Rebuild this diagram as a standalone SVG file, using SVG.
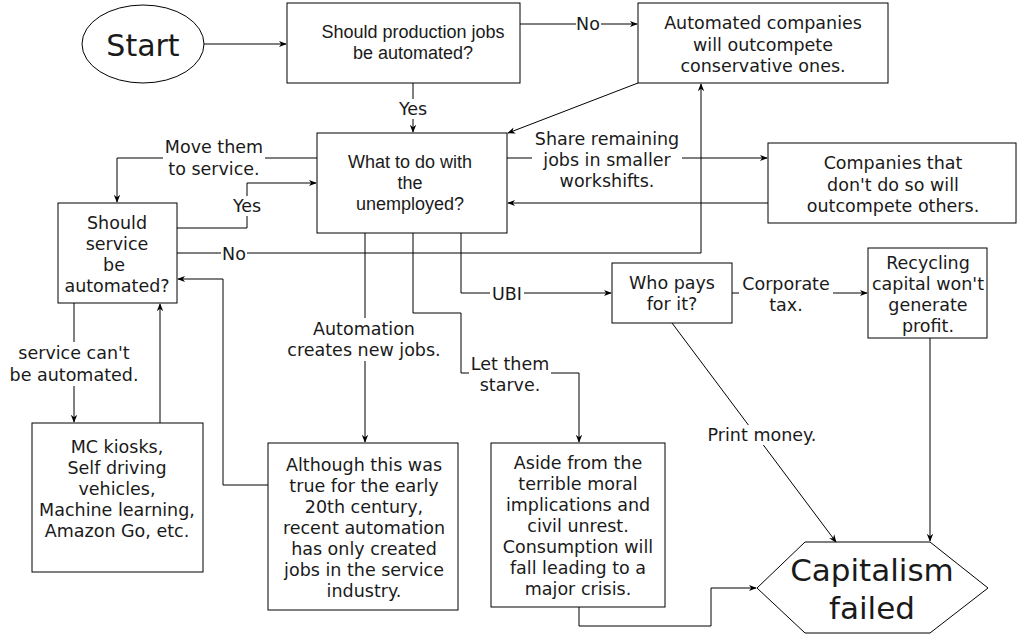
<svg xmlns="http://www.w3.org/2000/svg" width="1024" height="639" viewBox="0 0 1024 639">
<style>
.n{fill:#fff;stroke:#000;stroke-width:1}
.t{font-family:"DejaVu Sans",Verdana,sans-serif;font-size:17.5px;fill:#1a1a1a;text-anchor:middle;dominant-baseline:central}
.a{font-family:"Liberation Sans",Arial,sans-serif;font-size:18px;fill:#1a1a1a;text-anchor:middle;dominant-baseline:central}
.c{fill:none;stroke:#000;stroke-width:1}
.lb{fill:#fff;stroke:none}
</style>
<defs>
<marker id="ar" viewBox="0 0 10 10" refX="9" refY="5" markerWidth="8" markerHeight="8" markerUnits="userSpaceOnUse" orient="auto">
<path d="M0,1 L10,5 L0,9 L3,5 Z" fill="#000"/>
</marker>
</defs>
<rect width="1024" height="639" fill="#fff"/>
<g id="connectors">
<path class="c" d="M203,44 H286" marker-end="url(#ar)"/>
<path class="c" d="M520,24 H637" marker-end="url(#ar)"/>
<path class="c" d="M413,83 V132" marker-end="url(#ar)"/>
<path class="c" d="M638,83 L508,133" marker-end="url(#ar)"/>
<path class="c" d="M317,158 H117 V202" marker-end="url(#ar)"/>
<path class="c" d="M177,228 H247 V183 H316" marker-end="url(#ar)"/>
<path class="c" d="M177,253 H701 V84" marker-end="url(#ar)"/>
<path class="c" d="M507,158 H767" marker-end="url(#ar)"/>
<path class="c" d="M768,203 H508" marker-end="url(#ar)"/>
<path class="c" d="M74,303 V422" marker-end="url(#ar)"/>
<path class="c" d="M160,423 V304" marker-end="url(#ar)"/>
<path class="c" d="M268,485 H223 V279 H178" marker-end="url(#ar)"/>
<path class="c" d="M365,233 V442" marker-end="url(#ar)"/>
<path class="c" d="M413,233 V313 H461 V373 H579 V442" marker-end="url(#ar)"/>
<path class="c" d="M461,233 V293 H611" marker-end="url(#ar)"/>
<path class="c" d="M732,293 H867" marker-end="url(#ar)"/>
<path class="c" d="M672,323 L836,542" marker-end="url(#ar)"/>
<path class="c" d="M930,338 V541" marker-end="url(#ar)"/>
<path class="c" d="M579,607 V626 H711 V588 H756" marker-end="url(#ar)"/>
<rect class="lb" x="576" y="14" width="25" height="20"/>
<text class="t" x="588" y="24">No</text>
<rect class="lb" x="396" y="99" width="34" height="20"/>
<text class="t" x="413" y="109">Yes</text>
<rect class="lb" x="163" y="136" width="102" height="44"/>
<text class="t" x="214" y="147">Move them</text>
<text class="t" x="214" y="169">to service.</text>
<rect class="lb" x="229" y="196" width="36" height="20"/>
<text class="t" x="247" y="206">Yes</text>
<rect class="lb" x="221" y="244" width="26" height="20"/>
<text class="t" x="234" y="254">No</text>
<rect class="lb" x="532" y="128" width="150" height="64"/>
<text class="t" x="607" y="139">Share remaining</text>
<text class="t" x="607" y="160">jobs in smaller</text>
<text class="t" x="607" y="181">workshifts.</text>
<rect class="lb" x="8" y="342" width="132" height="44"/>
<text class="t" x="74" y="353">service can't</text>
<text class="t" x="74" y="375">be automated.</text>
<rect class="lb" x="285" y="318" width="158" height="43"/>
<text class="t" x="364" y="329">Automation</text>
<text class="t" x="364" y="350">creates new jobs.</text>
<rect class="lb" x="469" y="353" width="82" height="43"/>
<text class="t" x="510" y="364">Let them</text>
<text class="t" x="510" y="385">starve.</text>
<rect class="lb" x="490" y="284" width="34" height="20"/>
<text class="t" x="507" y="294">UBI</text>
<rect class="lb" x="739" y="273" width="94" height="43"/>
<text class="t" x="786" y="284">Corporate</text>
<text class="t" x="786" y="305">tax.</text>
<rect class="lb" x="705" y="425" width="114" height="20"/>
<text class="t" x="762" y="435">Print money.</text>
</g>
<g id="start">
<ellipse class="n" cx="143" cy="44" rx="61" ry="39"/>
<text class="t" x="143" y="45" style="font-size:30px">Start</text>
</g>
<g id="q-production">
<rect class="n" x="287" y="3" width="233" height="80"/>
<text class="a" x="413" y="32">Should production jobs</text>
<text class="a" x="413" y="53">be automated?</text>
</g>
<g id="automated-companies">
<rect class="n" x="638" y="3" width="250" height="80"/>
<text class="t" x="763" y="23">Automated companies</text>
<text class="t" x="763" y="45">will outcompete</text>
<text class="t" x="763" y="66">conservative ones.</text>
</g>
<g id="q-unemployed">
<rect class="n" x="317" y="133" width="190" height="100"/>
<text class="a" x="410" y="162">What to do with</text>
<text class="a" x="410" y="183">the</text>
<text class="a" x="410" y="204">unemployed?</text>
</g>
<g id="companies-shifts">
<rect class="n" x="768" y="143" width="248" height="80"/>
<text class="t" x="893" y="163">Companies that</text>
<text class="t" x="893" y="185">don't do so will</text>
<text class="t" x="893" y="206">outcompete others.</text>
</g>
<g id="q-service">
<rect class="n" x="58" y="203" width="119" height="100"/>
<text class="t" x="117" y="223">Should</text>
<text class="t" x="117" y="244">service</text>
<text class="t" x="114" y="265">be</text>
<text class="t" x="117" y="286">automated?</text>
</g>
<g id="examples">
<rect class="n" x="32" y="423" width="171" height="149"/>
<text class="t" x="117" y="447">MC kiosks,</text>
<text class="t" x="117" y="468">Self driving</text>
<text class="t" x="117" y="489">vehicles,</text>
<text class="t" x="117" y="510">Machine learning,</text>
<text class="t" x="117" y="531">Amazon Go, etc.</text>
</g>
<g id="although">
<rect class="n" x="268" y="443" width="190" height="167"/>
<text class="t" x="364" y="465">Although this was</text>
<text class="t" x="364" y="486">true for the early</text>
<text class="t" x="364" y="507">20th century,</text>
<text class="t" x="364" y="528">recent automation</text>
<text class="t" x="364" y="549">has only created</text>
<text class="t" x="364" y="570">jobs in the service</text>
<text class="t" x="364" y="591">industry.</text>
</g>
<g id="aside">
<rect class="n" x="491" y="443" width="174" height="164"/>
<text class="t" x="578" y="463">Aside from the</text>
<text class="t" x="578" y="484">terrible moral</text>
<text class="t" x="578" y="505">implications and</text>
<text class="t" x="578" y="526">civil unrest.</text>
<text class="t" x="578" y="547">Consumption will</text>
<text class="t" x="578" y="568">fall leading to a</text>
<text class="t" x="578" y="589">major crisis.</text>
</g>
<g id="who-pays">
<rect class="n" x="612" y="263" width="120" height="60"/>
<text class="t" x="672" y="283">Who pays</text>
<text class="t" x="672" y="304">for it?</text>
</g>
<g id="recycling">
<rect class="n" x="868" y="248" width="119" height="90"/>
<text class="t" x="928" y="263">Recycling</text>
<text class="t" x="928" y="284">capital won't</text>
<text class="t" x="928" y="305">generate</text>
<text class="t" x="928" y="326">profit.</text>
</g>
<g id="capitalism-failed">
<polygon class="n" points="805,542 930,542 988,588 930,633 805,633 757,588"/>
<text class="t" x="872" y="570" style="font-size:31px">Capitalism</text>
<text class="t" x="872" y="608" style="font-size:31px">failed</text>
</g>
</svg>
